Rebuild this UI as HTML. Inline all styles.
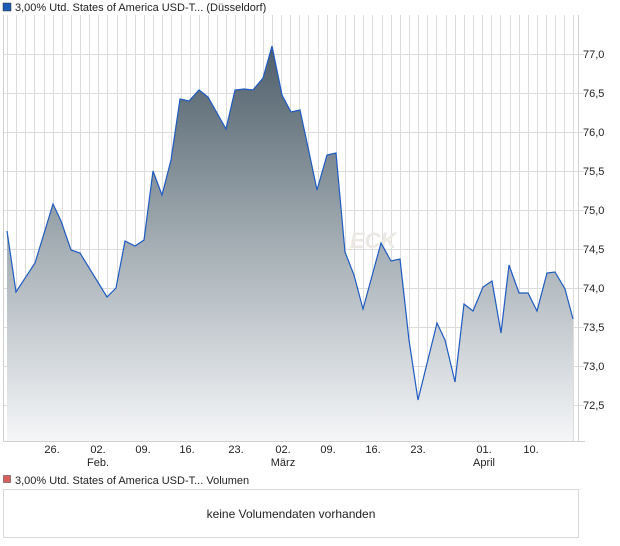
<!DOCTYPE html>
<html><head><meta charset="utf-8"><style>
html,body{margin:0;padding:0;background:#fff;width:620px;height:546px;overflow:hidden}
svg{display:block;font-family:"Liberation Sans",sans-serif}
</style></head><body>
<svg width="620" height="546" xmlns="http://www.w3.org/2000/svg">
<defs>
<linearGradient id="g" x1="0" y1="46" x2="0" y2="441" gradientUnits="userSpaceOnUse">
<stop offset="0" stop-color="#4e5e6a"/>
<stop offset="0.5" stop-color="#a3adb3"/>
<stop offset="1" stop-color="#f5f6f8"/>
</linearGradient>
</defs>
<rect x="3" y="3" width="8" height="8" fill="#1c5bb5" stroke="#333" stroke-width="0.5"/>
<text x="15" y="11" font-size="11" fill="#222">3,00% Utd. States of America USD-T... (Düsseldorf)</text>
<g stroke="#dcdcdc" stroke-width="1">
<line x1="7.5" y1="15" x2="7.5" y2="441"/><line x1="16.5" y1="15" x2="16.5" y2="441"/><line x1="25.5" y1="15" x2="25.5" y2="441"/><line x1="34.5" y1="15" x2="34.5" y2="441"/><line x1="44.5" y1="15" x2="44.5" y2="441"/><line x1="53.5" y1="15" x2="53.5" y2="441"/><line x1="62.5" y1="15" x2="62.5" y2="441"/><line x1="71.5" y1="15" x2="71.5" y2="441"/><line x1="80.5" y1="15" x2="80.5" y2="441"/><line x1="89.5" y1="15" x2="89.5" y2="441"/><line x1="98.5" y1="15" x2="98.5" y2="441"/><line x1="107.5" y1="15" x2="107.5" y2="441"/><line x1="117.5" y1="15" x2="117.5" y2="441"/><line x1="126.5" y1="15" x2="126.5" y2="441"/><line x1="135.5" y1="15" x2="135.5" y2="441"/><line x1="144.5" y1="15" x2="144.5" y2="441"/><line x1="153.5" y1="15" x2="153.5" y2="441"/><line x1="162.5" y1="15" x2="162.5" y2="441"/><line x1="171.5" y1="15" x2="171.5" y2="441"/><line x1="181.5" y1="15" x2="181.5" y2="441"/><line x1="190.5" y1="15" x2="190.5" y2="441"/><line x1="199.5" y1="15" x2="199.5" y2="441"/><line x1="208.5" y1="15" x2="208.5" y2="441"/><line x1="217.5" y1="15" x2="217.5" y2="441"/><line x1="226.5" y1="15" x2="226.5" y2="441"/><line x1="235.5" y1="15" x2="235.5" y2="441"/><line x1="245.5" y1="15" x2="245.5" y2="441"/><line x1="254.5" y1="15" x2="254.5" y2="441"/><line x1="263.5" y1="15" x2="263.5" y2="441"/><line x1="272.5" y1="15" x2="272.5" y2="441"/><line x1="281.5" y1="15" x2="281.5" y2="441"/><line x1="290.5" y1="15" x2="290.5" y2="441"/><line x1="299.5" y1="15" x2="299.5" y2="441"/><line x1="308.5" y1="15" x2="308.5" y2="441"/><line x1="318.5" y1="15" x2="318.5" y2="441"/><line x1="327.5" y1="15" x2="327.5" y2="441"/><line x1="336.5" y1="15" x2="336.5" y2="441"/><line x1="345.5" y1="15" x2="345.5" y2="441"/><line x1="354.5" y1="15" x2="354.5" y2="441"/><line x1="363.5" y1="15" x2="363.5" y2="441"/><line x1="372.5" y1="15" x2="372.5" y2="441"/><line x1="382.5" y1="15" x2="382.5" y2="441"/><line x1="391.5" y1="15" x2="391.5" y2="441"/><line x1="400.5" y1="15" x2="400.5" y2="441"/><line x1="409.5" y1="15" x2="409.5" y2="441"/><line x1="418.5" y1="15" x2="418.5" y2="441"/><line x1="427.5" y1="15" x2="427.5" y2="441"/><line x1="436.5" y1="15" x2="436.5" y2="441"/><line x1="446.5" y1="15" x2="446.5" y2="441"/><line x1="455.5" y1="15" x2="455.5" y2="441"/><line x1="464.5" y1="15" x2="464.5" y2="441"/><line x1="473.5" y1="15" x2="473.5" y2="441"/><line x1="482.5" y1="15" x2="482.5" y2="441"/><line x1="491.5" y1="15" x2="491.5" y2="441"/><line x1="500.5" y1="15" x2="500.5" y2="441"/><line x1="510.5" y1="15" x2="510.5" y2="441"/><line x1="519.5" y1="15" x2="519.5" y2="441"/><line x1="528.5" y1="15" x2="528.5" y2="441"/><line x1="537.5" y1="15" x2="537.5" y2="441"/><line x1="546.5" y1="15" x2="546.5" y2="441"/><line x1="555.5" y1="15" x2="555.5" y2="441"/><line x1="564.5" y1="15" x2="564.5" y2="441"/><line x1="573.5" y1="15" x2="573.5" y2="441"/>
</g>
<g stroke="#dcdcdc" stroke-width="1">
<line x1="3" y1="54.5" x2="584" y2="54.5"/><line x1="3" y1="93.5" x2="584" y2="93.5"/>
<line x1="3" y1="132.5" x2="584" y2="132.5"/><line x1="3" y1="171.5" x2="584" y2="171.5"/>
<line x1="3" y1="210.5" x2="584" y2="210.5"/><line x1="3" y1="249.5" x2="584" y2="249.5"/>
<line x1="3" y1="288.5" x2="584" y2="288.5"/><line x1="3" y1="327.5" x2="584" y2="327.5"/>
<line x1="3" y1="366.5" x2="584" y2="366.5"/><line x1="3" y1="405.5" x2="584" y2="405.5"/>
</g>
<text x="350" y="248" font-size="22" font-weight="bold" font-style="italic" fill="#ece8e4">ECK</text>
<path fill="url(#g)" stroke="none" d="M7,441 L7,231 16,292 35,263 53,204 61,221 71,250 80,253 107,297 116,288 125,241 135,246 144,240 153,171 162,195 171,160 180,99 189,101 199,90 208,97 226,129 235,90 244,89 253,90 263,78 272,46 282,95 291,112 300,110 309,152 317,190 327,155 336,153 345,252 354,275 363,309 381,243 391,261 400,259 409,340 418,400 437,323 445,340 455,382 464,304 473,311 483,287 492,281 501,333 509,265 519,293 528,293 537,311 547,273 555,272 565,289 573,319 L573,441 Z"/>
<polyline fill="none" stroke="#1f5bc0" stroke-width="1.2" points="7,231 16,292 35,263 53,204 61,221 71,250 80,253 107,297 116,288 125,241 135,246 144,240 153,171 162,195 171,160 180,99 189,101 199,90 208,97 226,129 235,90 244,89 253,90 263,78 272,46 282,95 291,112 300,110 309,152 317,190 327,155 336,153 345,252 354,275 363,309 381,243 391,261 400,259 409,340 418,400 437,323 445,340 455,382 464,304 473,311 483,287 492,281 501,333 509,265 519,293 528,293 537,311 547,273 555,272 565,289 573,319"/>
<g stroke="#d0d0d0" fill="none"><line x1="3.5" y1="15" x2="3.5" y2="441"/><line x1="578.5" y1="15" x2="578.5" y2="441"/><line x1="3" y1="441.5" x2="585" y2="441.5"/></g>
<g font-size="11" fill="#222">
<text x="583" y="58">77,0</text><text x="583" y="97">76,5</text><text x="583" y="136">76,0</text>
<text x="583" y="175">75,5</text><text x="583" y="214">75,0</text><text x="583" y="253">74,5</text>
<text x="583" y="292">74,0</text><text x="583" y="331">73,5</text><text x="583" y="370">73,0</text>
<text x="583" y="409">72,5</text>
</g>
<g font-size="11" fill="#222" text-anchor="middle">
<text x="52" y="453">26.</text><text x="98" y="453">02.</text><text x="143" y="453">09.</text>
<text x="187" y="453">16.</text><text x="236" y="453">23.</text><text x="283" y="453">02.</text>
<text x="328" y="453">09.</text><text x="373" y="453">16.</text><text x="418" y="453">23.</text>
<text x="484" y="453">01.</text><text x="531" y="453">10.</text>
<text x="98" y="466">Feb.</text><text x="283" y="466">März</text><text x="484" y="466">April</text>
</g>
<rect x="3.5" y="475.5" width="7" height="7" fill="#d9605c" stroke="#333" stroke-width="0.5"/>
<text x="15" y="484" font-size="11" fill="#222">3,00% Utd. States of America USD-T... Volumen</text>
<rect x="3.5" y="489.5" width="575" height="48" fill="#fff" stroke="#d8d8d8"/>
<text x="291" y="518" font-size="12" fill="#222" text-anchor="middle">keine Volumendaten vorhanden</text>
</svg>
</body></html>
